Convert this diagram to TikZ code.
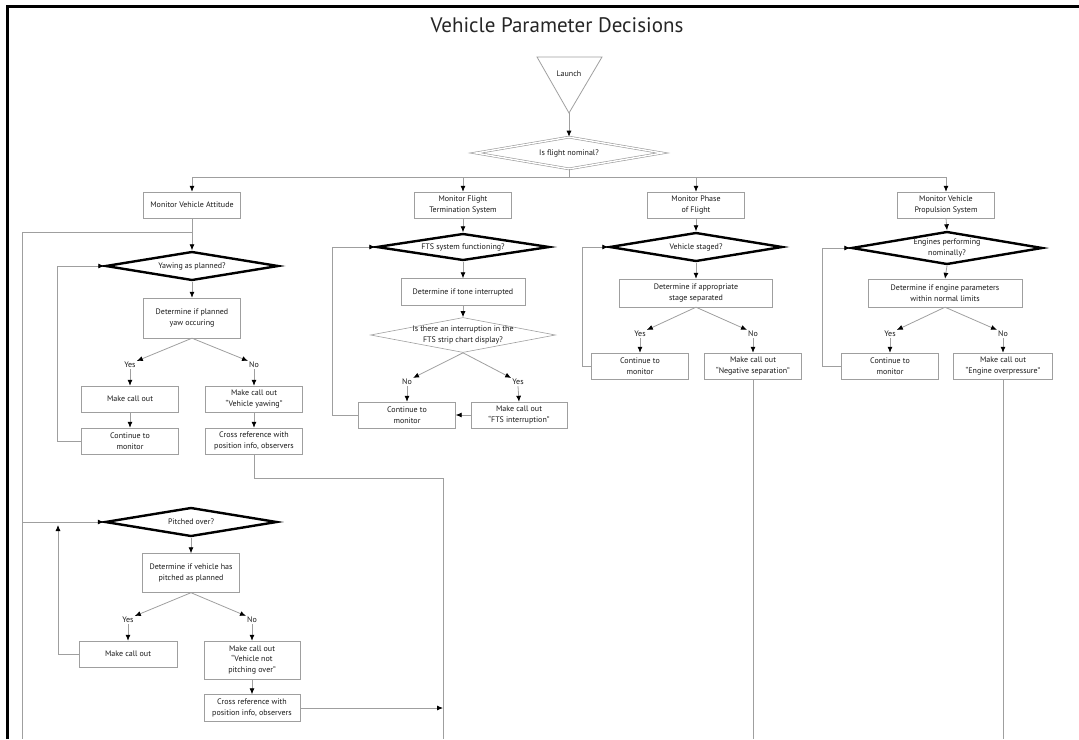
\documentclass[tikz,border=0pt]{standalone}
\usepackage{fontspec}
\setmainfont{PT Sans}
\usetikzlibrary{shapes,positioning,arrows.meta,calc}

\begin{document}
\begin{tikzpicture}[x=1pt,y=-1pt,font=\fontsize{8}{10.5}\selectfont]
  \tikzstyle{Box}=[draw=gray!75,rectangle,minimum width=97pt,minimum height=26pt,align=center,inner sep=1pt,text=black!90]
  \tikzstyle{Test}=[draw=black,line width=2.4pt,diamond,shape aspect=6,inner sep=0pt,minimum width=173pt,minimum height=29pt,align=center,text=black!90]
  \tikzstyle{Answer}=[inner sep=1pt,text=black!90]
  \tikzstyle{Link}=[draw=gray!75,line width=0.8pt]
  \tikzstyle{Arrow}=[Link,-{Latex[length=6pt,width=5pt,black]}]
  \useasboundingbox (0,0) rectangle (1079,739);
  \draw[line width=3pt] (7,739) -- (7,6) -- (1079,6);
  \node[font=\fontsize{21}{24}\selectfont,text=black!85] (title) at (557,25) {Vehicle Parameter Decisions};

  \draw[Link] (537,57) -- (602,57) -- (569,113) -- cycle;
  \node[Answer] (launch) at (569,74) {Launch};
  \coordinate (launchtip) at (569,113);
  \node[Test,draw=gray!80,line width=0.6pt,double=white,double distance=1.4pt,minimum width=187pt,minimum height=32pt] (flight) at (569,153) {Is flight nominal?};
  \coordinate (split) at (569,177);
  \draw[Arrow] (launchtip) -- (flight.north);
  \draw[Link] (flight.south) -- (split);

  \node[Box] (att) at (192,205) {Monitor Vehicle Attitude};
  \node[Box] (fts) at (463,205) {Monitor Flight\\Termination System};
  \node[Box] (phase) at (696,205) {Monitor Phase\\of Flight};
  \node[Box] (prop) at (946,205) {Monitor Vehicle\\Propulsion System};
  \draw[Arrow] (split) -| (att.north);
  \draw[Arrow] (split) -| (fts.north);
  \draw[Arrow] (split) -| (phase.north);
  \draw[Arrow] (split) -| (prop.north);

  % attitude: yaw
  \node[Test] (yaw) at (192,266) {Yawing as planned?};
  \node[Box,minimum height=40pt] (detyaw) at (192,318) {Determine if planned\\yaw occuring};
  \node[Answer] (yes1) at (130,365) {Yes};
  \node[Answer] (no1) at (254,365) {No};
  \node[Box] (callyaw) at (130,399) {Make call out};
  \node[Box] (callveh) at (254,399) {Make call out\\“Vehicle yawing”};
  \node[Box] (contyaw) at (130,441) {Continue to\\monitor};
  \node[Box] (crossyaw) at (254,441) {Cross reference with\\position info, observers};
  \coordinate (outer) at (22,232);
  \coordinate (leftend) at (22,739);
  \coordinate (merge) at (443,478);
  \coordinate (mergeend) at (443,739);
  \draw[Arrow] (att.south) -- (yaw.north);
  \draw[Link] (outer) -- (yaw.north |- outer);
  \draw[Link] (outer) -- (leftend);
  \draw[Arrow] (yaw.south) -- (detyaw.north);
  \draw[Arrow] (detyaw.south) -- (yes1.north east);
  \draw[Arrow] (detyaw.south) -- (no1.north west);
  \draw[Arrow] (yes1.south) -- (callyaw.north);
  \draw[Arrow] (no1.south) -- (callveh.north);
  \draw[Arrow] (callyaw.south) -- (contyaw.north);
  \draw[Arrow] (callveh.south) -- (crossyaw.north);
  \draw[Arrow] (contyaw.west) -- ++(-24,0) |- (yaw.west);
  \draw[Link] (crossyaw.south) |- (merge) -- (mergeend);

  % attitude: pitch
  \node[Test,minimum width=172pt] (pitch) at (191,522) {Pitched over?};
  \node[Box,minimum height=39pt] (detpitch) at (191,573) {Determine if vehicle has\\pitched as planned};
  \node[Answer] (yes2) at (128,620) {Yes};
  \node[Answer] (no2) at (252,620) {No};
  \node[Box,minimum width=98pt] (callpitch) at (128,654) {Make call out};
  \node[Box,minimum width=96pt,minimum height=38pt] (callnot) at (252,660) {Make call out\\“Vehicle not\\pitching over”};
  \node[Box,minimum width=96pt,minimum height=27pt] (crosspitch) at (252,708) {Cross reference with\\position info, observers};
  \coordinate (pitchloop) at (58,525);
  \draw[Arrow] (pitch.west -| outer) -- (pitch.west);
  \draw[Arrow] (pitch.south) -- (detpitch.north);
  \draw[Arrow] (detpitch.south) -- (yes2.north east);
  \draw[Arrow] (detpitch.south) -- (no2.north west);
  \draw[Arrow] (yes2.south) -- (callpitch.north);
  \draw[Arrow] (no2.south) -- (callnot.north);
  \draw[Arrow] (callpitch.west) -| (pitchloop);
  \draw[Arrow] (callnot.south) -- (crosspitch.north);
  \draw[Arrow] (crosspitch.east) -- (crosspitch.east -| merge);

  % flight termination system
  \node[Test,minimum height=27pt] (ftsd) at (463,247) {FTS system functioning?};
  \node[Box,minimum width=124pt,minimum height=27pt] (tone) at (463,292) {Determine if tone interrupted};
  \node[diamond,draw=gray!75,line width=0.6pt,inner sep=0pt,minimum width=185pt,minimum height=35pt,
    label={[align=center,text=black!90]center:Is there an interruption in the\\FTS strip chart display?}] (intr) at (463,335) {};
  \node[Answer] (no3) at (407,382) {No};
  \node[Answer] (yes3) at (518,382) {Yes};
  \node[Box] (contfts) at (407,415) {Continue to\\monitor};
  \node[Box,minimum width=96pt] (callfts) at (519,415) {Make call out\\“FTS interruption”};
  \draw[Arrow] (fts.south) -- (ftsd.north);
  \draw[Arrow] (ftsd.south) -- (tone.north);
  \draw[Arrow] (tone.south) -- (intr.north);
  \draw[Arrow] (intr.south) -- (no3.north east);
  \draw[Arrow] (intr.south) -- (yes3.north west);
  \draw[Arrow] (no3.south) -- (contfts.north);
  \draw[Arrow] (yes3.south) -- (callfts.north);
  \draw[Arrow] (callfts.west) -- (contfts.east);
  \draw[Arrow] (contfts.west) -- ++(-26,0) |- (ftsd.west);

  % phase of flight
  \node[Test] (staged) at (696,247) {Vehicle staged?};
  \node[Box,minimum width=153pt,minimum height=28pt] (detstage) at (696,293) {Determine if appropriate\\stage separated};
  \node[Answer] (yes4) at (640,334) {Yes};
  \node[Answer] (no4) at (753,334) {No};
  \node[Box] (contph) at (640,366) {Continue to\\monitor};
  \node[Box] (callneg) at (753,366) {Make call out\\“Negative separation”};
  \coordinate (negend) at (753,739);
  \draw[Arrow] (phase.south) -- (staged.north);
  \draw[Arrow] (staged.south) -- (detstage.north);
  \draw[Arrow] (detstage.south) -- (yes4.north east);
  \draw[Arrow] (detstage.south) -- (no4.north west);
  \draw[Arrow] (yes4.south) -- (contph.north);
  \draw[Arrow] (no4.south) -- (callneg.north);
  \draw[Arrow] (contph.west) -- ++(-9,0) |- (staged.west);
  \draw[Link] (callneg.south) -- (negend);

  % propulsion
  \node[Test,minimum width=191pt,minimum height=33pt] (eng) at (947,248) {Engines performing\\nominally?};
  \node[Box,minimum width=154pt,minimum height=28pt] (deteng) at (945,293) {Determine if engine parameters\\within normal limits};
  \node[Answer] (yes5) at (890,334) {Yes};
  \node[Answer] (no5) at (1003,334) {No};
  \node[Box] (contpr) at (890,366) {Continue to\\monitor};
  \node[Box,minimum width=99pt] (callover) at (1003,366) {Make call out\\“Engine overpressure”};
  \coordinate (overend) at (1003,739);
  \draw[Arrow] (prop.south) -- (eng.north);
  \draw[Arrow] (eng.south) -- (deteng.north);
  \draw[Arrow] (deteng.south) -- (yes5.north east);
  \draw[Arrow] (deteng.south) -- (no5.north west);
  \draw[Arrow] (yes5.south) -- (contpr.north);
  \draw[Arrow] (no5.south) -- (callover.north);
  \draw[Arrow] (contpr.west) -- ++(-19,0) |- (eng.west);
  \draw[Link] (callover.south) -- (overend);
\end{tikzpicture}
\end{document}
